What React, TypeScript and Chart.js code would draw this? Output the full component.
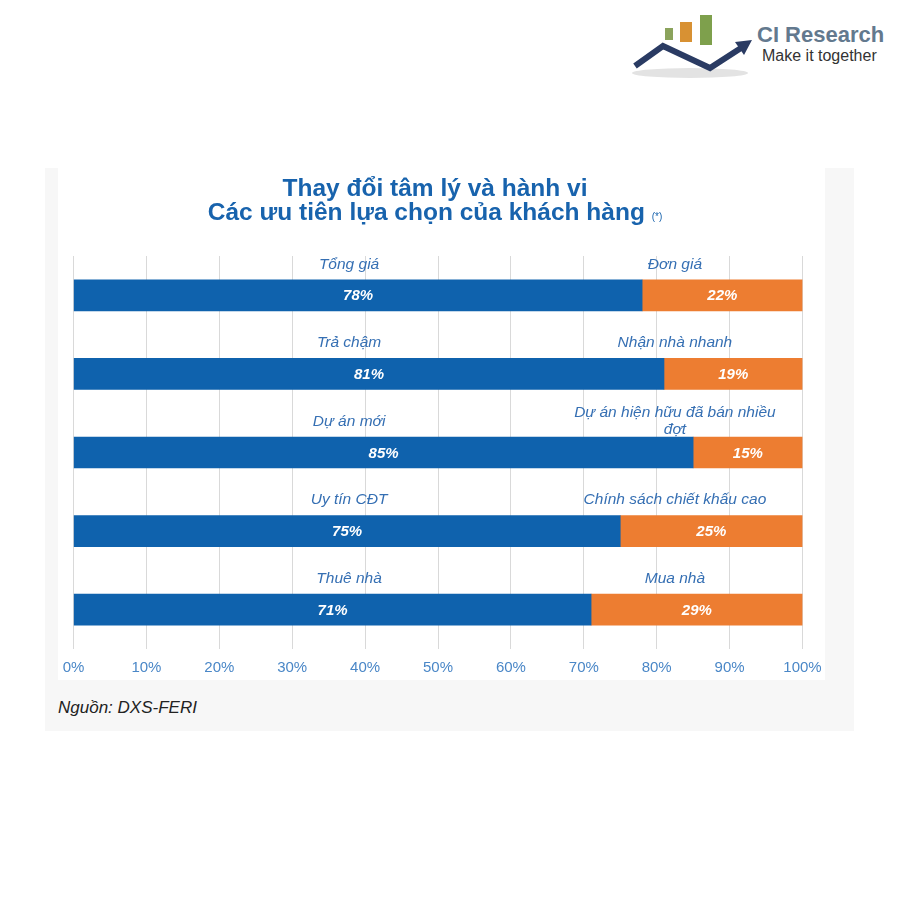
import React, { useEffect, useRef } from "react";
import { Chart, registerables } from "chart.js";

Chart.register(...registerables);

// ---- data ----
const leftLabels: string[] = ["Tổng giá", "Trả chậm", "Dự án mới", "Uy tín CĐT", "Thuê nhà"];
const rightLabels: (string | string[])[] = [
  "Đơn giá",
  "Nhận nhà nhanh",
  ["Dự án hiện hữu đã bán nhiều", "đợt"],
  "Chính sách chiết khấu cao",
  "Mua nhà",
];
const leftValues: number[] = [78, 81, 85, 75, 71];
const rightValues: number[] = [22, 19, 15, 25, 29];
const xMin = 0;
const xMax = 100;
const xStep = 10;

const FONT = "'Liberation Sans', Arial, Helvetica, sans-serif";

const barLabelPlugin = {
  id: "barLabels",
  afterDatasetsDraw(chart: any) {
    const ctx = chart.ctx;
    const xScale = chart.scales.x;
    const anchors = [37.8, 82.5];
    const catSets: (string | string[])[][] = [leftLabels, rightLabels];
    chart.data.datasets.forEach((ds: any, di: number) => {
      const meta = chart.getDatasetMeta(di);
      meta.data.forEach((bar: any, i: number) => {
        const p = bar.getProps(["x", "y", "base"], true);
        const cx = (p.x + p.base) / 2;
        ctx.save();
        ctx.textAlign = "center";
        ctx.textBaseline = "middle";
        ctx.font = `italic bold 15px ${FONT}`;
        ctx.fillStyle = "#ffffff";
        ctx.fillText(`${ds.data[i]}%`, cx, p.y + 1);

        const lab = catSets[di][i];
        const lines = Array.isArray(lab) ? lab : [lab];
        ctx.font = `italic 15.5px ${FONT}`;
        ctx.fillStyle = "#356fb3";
        const ax = xScale.getPixelForValue(anchors[di]);
        const lh = 17;
        const startY = p.y - 31 - ((lines.length - 1) * lh) / 2;
        lines.forEach((ln: string, k: number) => ctx.fillText(ln, ax, startY + k * lh));
        ctx.restore();
      });
    });
  },
};

function BarChart() {
  const ref = useRef<HTMLCanvasElement | null>(null);
  useEffect(() => {
    if (!ref.current) return;
    const chart = new Chart(ref.current, {
      type: "bar",
      data: {
        labels: leftLabels,
        datasets: [
          {
            label: "left",
            data: leftValues,
            backgroundColor: "#0f62ad",
            barThickness: 31,
          },
          {
            label: "right",
            data: rightValues,
            backgroundColor: "#ed7d31",
            barThickness: 31,
          },
        ],
      },
      options: {
        indexAxis: "y",
        responsive: false,
        animation: false,
        layout: { padding: { left: 15.5, right: 22.5, top: 88, bottom: 6 } },
        plugins: {
          legend: { display: false },
          tooltip: { enabled: false },
          title: { display: false },
        },
        scales: {
          x: {
            type: "linear",
            stacked: true,
            min: xMin,
            max: xMax,
            grid: {
              color: "#d9d9d9",
              lineWidth: 1,
              drawTicks: true,
              tickLength: 7,
              tickColor: "rgba(0,0,0,0)",
            },
            border: { display: false },
            ticks: {
              stepSize: xStep,
              padding: 3,
              color: "#4a87c7",
              font: { family: FONT, size: 15 },
              callback: (v: any) => `${v}%`,
            },
          },
          y: {
            type: "category",
            stacked: true,
            display: false,
          },
        },
      },
      plugins: [barLabelPlugin],
    } as any);
    return () => chart.destroy();
  }, []);
  return <canvas ref={ref} width={767} height={518} style={{ display: "block" }} />;
}

function Logo() {
  return (
    <>
      <svg
        width={130}
        height={75}
        style={{ position: "absolute", left: 628, top: 10 }}
        viewBox="0 0 130 75"
      >
        <ellipse cx={62} cy={63} rx={58} ry={5} fill="#e3e3e3" />
        <rect x={37} y={18} width={8} height={12} fill="#8ba35c" />
        <rect x={52} y={12} width={12} height={20} fill="#d89133" />
        <rect x={72} y={5} width={12} height={30} fill="#7ea04c" />
        <polyline
          points="7,56 35,36 82,58 113,38"
          fill="none"
          stroke="#2a3b63"
          strokeWidth={6}
          strokeLinejoin="miter"
        />
        <polygon points="107,32 124,30 116,45" fill="#2a3b63" />
      </svg>
      <div
        style={{
          position: "absolute",
          left: 757,
          top: 24,
          font: `bold 22px/22px ${FONT}`,
          color: "#63798e",
          whiteSpace: "nowrap",
        }}
      >
        CI Research
      </div>
      <div
        style={{
          position: "absolute",
          left: 762,
          top: 48,
          font: `16px/16px ${FONT}`,
          color: "#333333",
          whiteSpace: "nowrap",
        }}
      >
        Make it together
      </div>
    </>
  );
}

export default function App() {
  return (
    <div
      style={{
        position: "absolute",
        left: 0,
        top: 0,
        width: 900,
        height: 900,
        background: "#ffffff",
        overflow: "hidden",
      }}
    >
      <Logo />
      <div
        style={{
          position: "absolute",
          left: 45,
          top: 168,
          width: 809,
          height: 563,
          background: "#f7f7f7",
        }}
      />
      <div
        style={{
          position: "absolute",
          left: 58,
          top: 168,
          width: 767,
          height: 512,
          background: "#ffffff",
        }}
      />
      <div style={{ position: "absolute", left: 58, top: 168 }}>
        <BarChart />
      </div>
      <div
        style={{
          position: "absolute",
          left: 0,
          top: 175.5,
          width: 870,
          textAlign: "center",
          font: `bold 24.5px/24px ${FONT}`,
          color: "#1863ad",
        }}
      >
        <div>Thay đổi tâm lý và hành vi</div>
        <div>
          Các ưu tiên lựa chọn của khách hàng{" "}
          <span style={{ fontSize: 10, fontWeight: "normal" }}>(*)</span>
        </div>
      </div>
      <div
        style={{
          position: "absolute",
          left: 58,
          top: 699,
          font: `italic 17px/17px ${FONT}`,
          color: "#222222",
          whiteSpace: "nowrap",
        }}
      >
        Nguồn: DXS-FERI
      </div>
    </div>
  );
}
